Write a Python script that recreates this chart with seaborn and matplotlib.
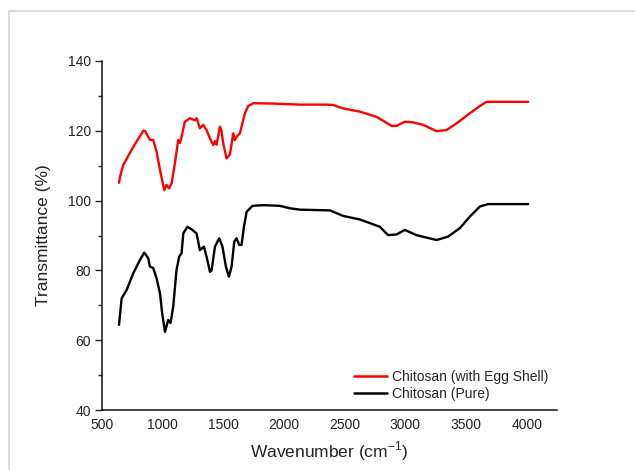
import numpy as np
import pandas as pd
import matplotlib
matplotlib.use("Agg")
import matplotlib.pyplot as plt
from matplotlib.lines import Line2D
import seaborn as sns

# ---- data ----
egg_x = [640, 650, 675, 758, 840, 854, 895, 922, 950, 978, 1013, 1032, 1052, 1074,
         1101, 1128, 1142, 1156, 1183, 1225, 1266, 1280, 1307, 1334, 1362, 1390,
         1417, 1431, 1444, 1472, 1485, 1499, 1527, 1554, 1582, 1595, 1609, 1637,
         1650, 1678, 1705, 1747, 1911, 2131, 2351, 2405, 2488, 2625, 2762, 2831,
         2886, 2927, 2996, 3064, 3147, 3257, 3339, 3421, 3531, 3614, 3669, 4012]
egg_y = [105.1, 107.0, 110.2, 115.4, 120.0, 120.0, 117.4, 117.4, 114.0, 108.8, 103.0,
         104.5, 103.5, 105.0, 110.7, 117.4, 116.5, 118.3, 122.6, 123.6, 123.0, 123.6,
         120.7, 121.7, 120.2, 117.8, 115.9, 117.0, 116.0, 121.2, 120.0, 116.4, 112.1,
         113.2, 119.3, 117.3, 118.3, 119.3, 121.2, 125.0, 127.1, 127.9, 127.8, 127.5,
         127.5, 127.4, 126.4, 125.5, 124.0, 122.6, 121.4, 121.4, 122.6, 122.4, 121.7,
         119.9, 120.2, 122.1, 125.0, 127.1, 128.3, 128.3]

pure_x = [640, 662, 703, 758, 813, 848, 881, 895, 922, 950, 978, 996, 1019, 1046,
          1065, 1087, 1114, 1136, 1156, 1170, 1203, 1238, 1279, 1307, 1340, 1362,
          1390, 1403, 1431, 1466, 1493, 1521, 1546, 1568, 1590, 1609, 1631, 1650,
          1670, 1692, 1741, 1829, 1966, 2049, 2131, 2378, 2488, 2625, 2790, 2858,
          2927, 2996, 3092, 3257, 3353, 3449, 3531, 3614, 3682, 4012]
pure_y = [64.4, 72.0, 74.4, 79.2, 83.0, 85.1, 83.5, 81.1, 80.7, 77.7, 73.4, 67.7, 62.4,
          65.8, 64.9, 69.6, 80.1, 83.9, 85.0, 90.6, 92.5, 91.8, 90.6, 85.8, 86.8, 83.9,
          79.6, 80.0, 86.8, 89.2, 86.8, 81.1, 78.2, 81.1, 88.2, 89.2, 87.3, 87.3, 92.5,
          96.8, 98.5, 98.7, 98.5, 97.8, 97.4, 97.2, 95.6, 94.6, 92.5, 90.1, 90.3, 91.6,
          90.1, 88.7, 89.7, 92.1, 95.4, 98.3, 99.0, 99.0]

series_names = ["Chitosan (with Egg Shell)", "Chitosan (Pure)"]
x_ticks = [500, 1000, 1500, 2000, 2500, 3000, 3500, 4000]
y_ticks = [40, 60, 80, 100, 120, 140]

df = pd.concat([
    pd.DataFrame({"x": egg_x, "y": egg_y, "series": series_names[0]}),
    pd.DataFrame({"x": pure_x, "y": pure_y, "series": series_names[1]}),
], ignore_index=True)

sns.set_style("ticks")
plt.rcParams["font.family"] = ["Liberation Sans", "DejaVu Sans"]

fig = plt.figure(figsize=(6.35, 4.70), dpi=100)
ax = fig.add_axes([102 / 635, 1 - 410 / 470, (557 - 102) / 635, (410 - 61) / 470])

sns.lineplot(data=df, x="x", y="y", hue="series", hue_order=series_names,
             palette=["#ff0000", "#000000"], linewidth=1.7, sort=False,
             estimator=None, ax=ax, legend=False)

ax.set_xlim(500, 4250)
ax.set_ylim(40, 140)
ax.set_xticks(x_ticks)
ax.set_yticks(y_ticks)
ax.set_yticks([50, 70, 90, 110, 130], minor=True)
ax.tick_params(axis="x", length=0, pad=6, labelsize=10, colors="#222222")
ax.tick_params(axis="y", which="major", direction="out", length=5, width=1,
               pad=3, labelsize=10, colors="#222222")
ax.tick_params(axis="y", which="minor", direction="out", length=3, width=1,
               colors="#222222")
for s in ["top", "right"]:
    ax.spines[s].set_visible(False)
for s in ["left", "bottom"]:
    ax.spines[s].set_linewidth(1.1)
    ax.spines[s].set_color("#111111")

ax.set_xlabel("Wavenumber (cm$^{\\mathregular{-1}}$)", fontsize=12.5, labelpad=5,
              color="#222222")
ax.set_ylabel("Transmittance (%)", fontsize=12.5, labelpad=12, color="#222222")

handles = [Line2D([0], [0], color="#ff0000", lw=1.8),
           Line2D([0], [0], color="#000000", lw=1.8)]
ax.legend(handles, series_names, loc="upper left", bbox_to_anchor=(0.554, 0.115),
          frameon=False, fontsize=10, handlelength=2.4, handletextpad=0.3,
          labelspacing=0.25, borderpad=0, borderaxespad=0)

# light grey frame lines of the original image
fig.add_artist(Line2D([9 / 635, 1], [1 - 11 / 470, 1 - 11 / 470], color="#d9d9d9",
                      lw=1.5, transform=fig.transFigure))
fig.add_artist(Line2D([9 / 635, 9 / 635], [0, 1 - 11 / 470], color="#d9d9d9",
                      lw=1.5, transform=fig.transFigure))

fig.savefig("out.png", dpi=100)
